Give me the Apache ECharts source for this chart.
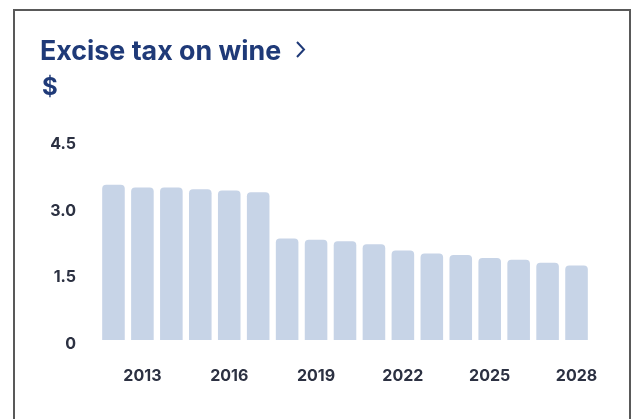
<!DOCTYPE html>
<html>
<head>
<meta charset="utf-8">
<script src="https://cdn.jsdelivr.net/npm/echarts@6/dist/echarts.min.js"></script>
<style>
  html, body { margin: 0; padding: 0; background: #ffffff; }
  #card {
    position: absolute; left: 13px; top: 9px; width: 618px; height: 430px;
    border: 2px solid #595959; box-sizing: border-box; background: #ffffff;
  }
  #chart { position: absolute; left: 0; top: 0; width: 636px; height: 419px; }
</style>
</head>
<body>
<div id="card"></div>
<div id="chart"></div>
<script>
// Excise tax on wine, dollars per year
const years = ['2012', '2013', '2014', '2015', '2016', '2017', '2018', '2019', '2020',
               '2021', '2022', '2023', '2024', '2025', '2026', '2027', '2028'];
const exciseTax = [3.50, 3.44, 3.44, 3.40, 3.37, 3.33, 2.29, 2.26, 2.23,
                   2.16, 2.02, 1.95, 1.92, 1.85, 1.81, 1.74, 1.68];
const yTicks = [0, 1.5, 3.0, 4.5];

const chart = echarts.init(document.getElementById('chart'), null, { renderer: 'canvas' });

const labelFont = {
  color: '#2c3142',
  fontFamily: 'Inter',
  fontWeight: 700,
  fontSize: 16
};

chart.setOption({
  animation: false,
  title: [
    {
      text: 'Excise tax on wine',
      left: 35,
      top: 33,
      textStyle: { color: '#1f3a78', fontFamily: 'Inter', fontWeight: 700, fontSize: 26.8 }
    },
    {
      text: '$',
      left: 37,
      top: 71,
      textStyle: { color: '#1f3a78', fontFamily: 'Inter', fontWeight: 700, fontSize: 24 }
    }
  ],
  graphic: [
    {
      type: 'polyline',
      shape: { points: [[297, 42], [304, 49.5], [297, 57]] },
      style: { stroke: '#1f3a78', lineWidth: 2, fill: null }
    }
  ],
  grid: { left: 99, right: 45, top: 140.5, bottom: 79, containLabel: false },
  xAxis: {
    type: 'category',
    data: years,
    axisLine: { show: false },
    axisTick: { show: false },
    axisLabel: Object.assign({
      margin: 28,
      interval: function (idx) { return (idx - 1) % 3 === 0; }
    }, labelFont)
  },
  yAxis: {
    type: 'value',
    min: yTicks[0],
    max: yTicks[yTicks.length - 1],
    interval: yTicks[1] - yTicks[0],
    splitLine: { show: false },
    axisLine: { show: false },
    axisTick: { show: false },
    axisLabel: Object.assign({
      margin: 23,
      formatter: function (v) { return '{v|' + (v === 0 ? '0' : v.toFixed(1)) + '}'; },
      rich: {
        v: Object.assign({ padding: [8, 0, 0, 0] }, labelFont)
      }
    }, labelFont)
  },
  series: [
    {
      type: 'bar',
      data: exciseTax,
      barWidth: '78%',
      itemStyle: { color: '#c7d4e7', borderRadius: [4, 4, 0, 0] }
    }
  ]
});
</script>
</body>
</html>
